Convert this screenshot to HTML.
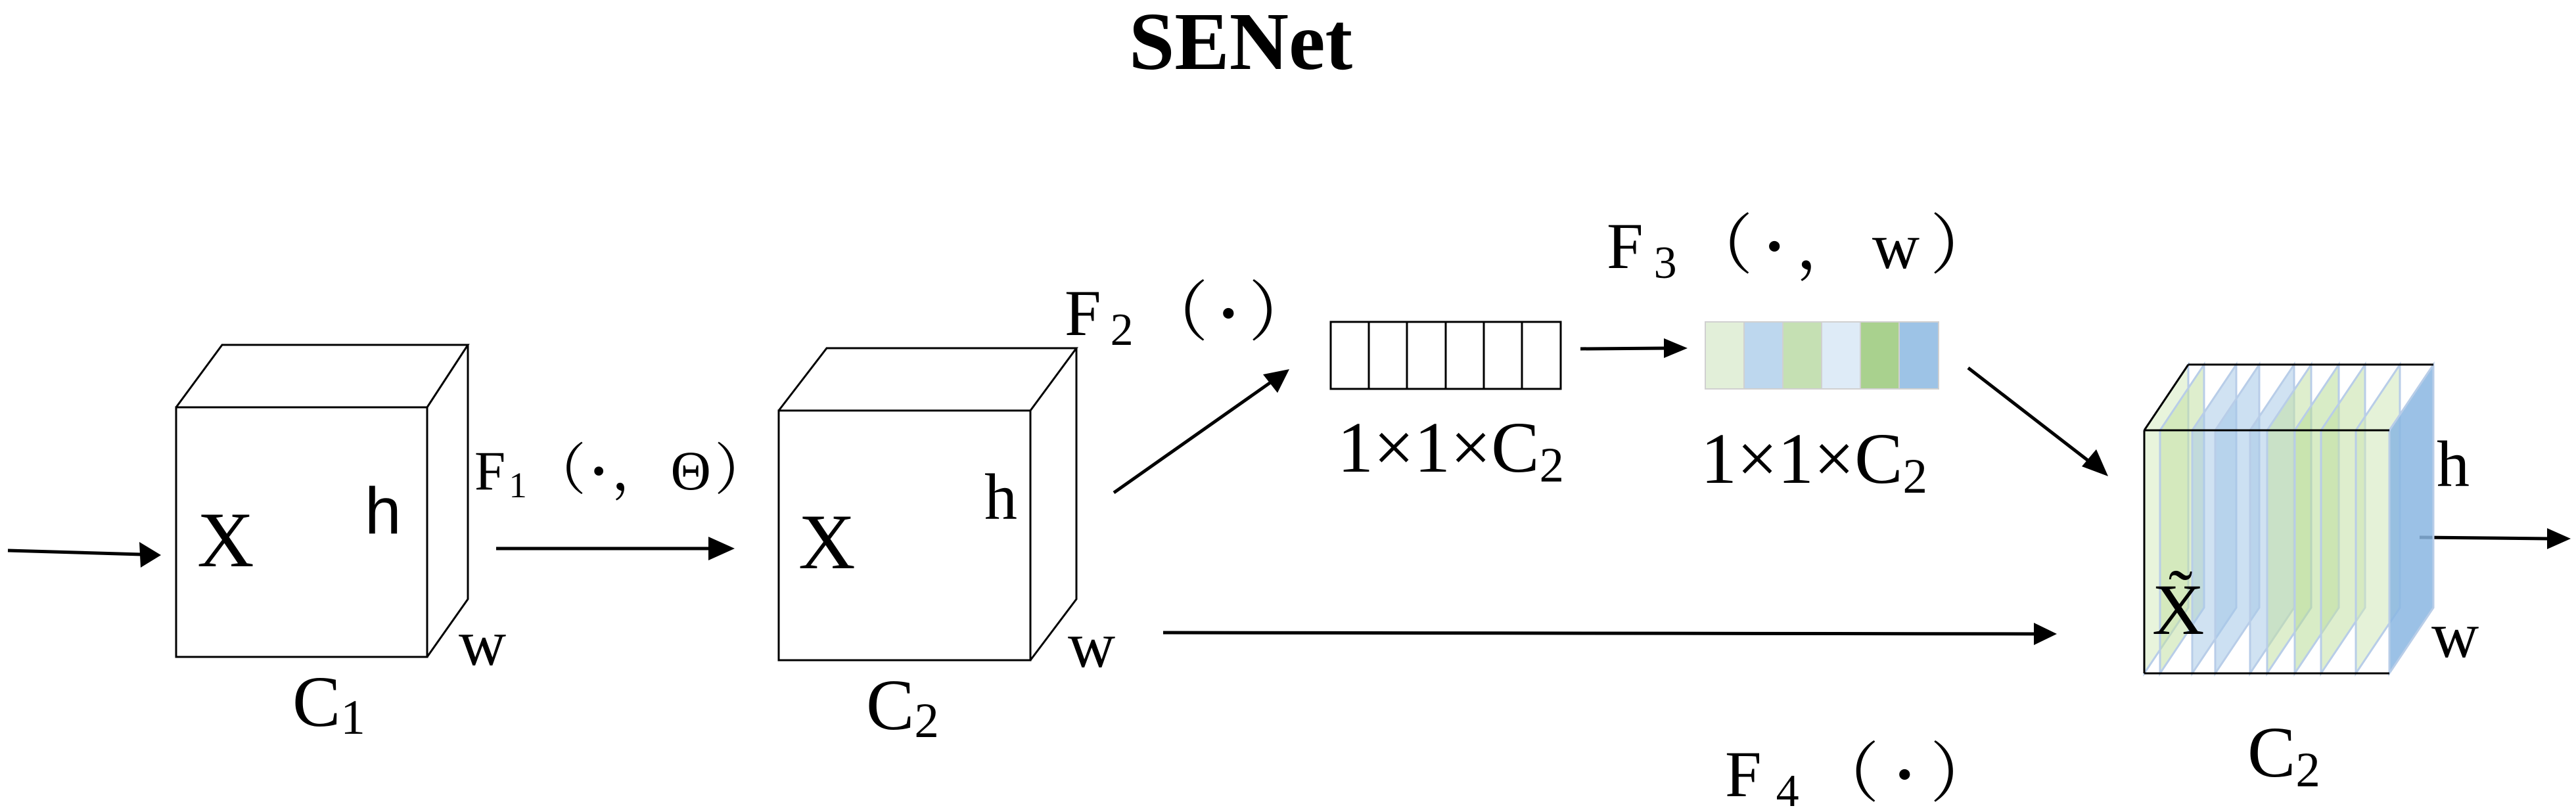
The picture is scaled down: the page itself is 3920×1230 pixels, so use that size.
<!DOCTYPE html>
<html><head><meta charset="utf-8"><style>
html,body{margin:0;padding:0;background:#fff}
svg{display:block}
text{font-family:"Liberation Serif","Noto Serif CJK SC",serif;fill:#000}
</style></head><body>
<svg width="3920" height="1230" viewBox="0 0 3920 1230" xmlns="http://www.w3.org/2000/svg">
<text x="1888" y="105" font-size="125" font-weight="bold" text-anchor="middle">SENet</text>

<g stroke="#000" stroke-width="5" fill="none">
<line x1="12" y1="838" x2="215" y2="844"/>
<line x1="755" y1="835" x2="1080" y2="835"/>
<line x1="1695" y1="750" x2="1935" y2="581"/>
<line x1="2405" y1="531" x2="2540" y2="530"/>
<line x1="2995" y1="560" x2="3180" y2="703"/>
<line x1="1770" y1="963" x2="3100" y2="965"/>
<line x1="3682" y1="818" x2="3880" y2="820"/>
</g>
<g fill="#000">
<polygon points="245,845 212,825 214,864"/>
<polygon points="1118,835 1078,817 1078,853"/>
<polygon points="1962,562 1922,570 1944,598"/>
<polygon points="2568,530 2532,515 2532,545"/>
<polygon points="3208,725 3168,710 3190,684"/>
<polygon points="3130,965 3095,948 3095,982"/>
<polygon points="3912,820 3876,804 3876,836"/>
</g>

<g stroke="#000" stroke-width="3" fill="none">
<rect x="268" y="620" width="382" height="380"/>
<polyline points="268,620 338,525 712,525 650,620"/>
<polyline points="712,525 712,912 650,1000"/>
<rect x="1185" y="625" width="383" height="380"/>
<polyline points="1185,625 1258,530 1638,530 1568,625"/>
<polyline points="1638,530 1638,912 1568,1005"/>
</g>
<text x="300" y="862" font-size="120">X</text>
<text x="555" y="812" font-size="100" style="font-family:'Liberation Sans',sans-serif">h</text>
<text x="698" y="1012" font-size="100">w</text>
<text x="445" y="1105" font-size="110">C<tspan font-size="75" dy="12">1</tspan></text>
<text x="722" y="745" font-size="85" textLength="450" lengthAdjust="spacing">F<tspan font-size="55" dy="12">1</tspan><tspan dy="-12">（</tspan><tspan font-weight="bold">·</tspan>，Θ）</text>

<text x="1215" y="865" font-size="120">X</text>
<text x="1498" y="790" font-size="100">h</text>
<text x="1625" y="1015" font-size="100">w</text>
<text x="1318" y="1110" font-size="110">C<tspan font-size="75" dy="12">2</tspan></text>
<text x="1620" y="510" font-size="100" textLength="380" lengthAdjust="spacing">F<tspan font-size="70" dy="15">2</tspan><tspan dy="-15">（</tspan><tspan font-weight="bold">·</tspan>）</text>

<g stroke="#000" stroke-width="3" fill="none">
<rect x="2025" y="490" width="350" height="102"/>
<line x1="2083" y1="490" x2="2083" y2="592"/>
<line x1="2141" y1="490" x2="2141" y2="592"/>
<line x1="2200" y1="490" x2="2200" y2="592"/>
<line x1="2258" y1="490" x2="2258" y2="592"/>
<line x1="2316" y1="490" x2="2316" y2="592"/>
</g>
<text x="2035" y="718" font-size="110">1×1×C<tspan font-size="75" dy="15">2</tspan></text>

<g stroke="#d0d0d0" stroke-width="2">
<rect x="2595" y="490" width="59" height="102" fill="#e2efd9"/>
<rect x="2654" y="490" width="59" height="102" fill="#bdd7ee"/>
<rect x="2713" y="490" width="59" height="102" fill="#c5e0b3"/>
<rect x="2772" y="490" width="59" height="102" fill="#deebf7"/>
<rect x="2831" y="490" width="59" height="102" fill="#a9d18e"/>
<rect x="2890" y="490" width="60" height="102" fill="#9dc3e6"/>
</g>
<text x="2588" y="735" font-size="110">1×1×C<tspan font-size="75" dy="15">2</tspan></text>
<text x="2445" y="408" font-size="100" textLength="592" lengthAdjust="spacing">F<tspan font-size="70" dy="15">3</tspan><tspan dy="-15">（</tspan><tspan font-weight="bold">·</tspan>，w）</text>
<text x="2625" y="1212" font-size="100" textLength="412" lengthAdjust="spacing">F<tspan font-size="70" dy="15">4</tspan><tspan dy="-15">（</tspan><tspan font-weight="bold">·</tspan>）</text>

<g stroke-width="3" stroke="#b8cde8" fill-opacity="0.55">
<polygon points="3263,655 3330,555 3330,925 3263,1025" fill="#d5ebc0"/>
<polygon points="3287,655 3354,555 3354,925 3287,1025" fill="#c2e0a4"/>
<polygon points="3336,655 3403,555 3403,925 3336,1025" fill="#a9cbe8"/>
<polygon points="3371,655 3438,555 3438,925 3371,1025" fill="#a3c6e8"/>
<polygon points="3424,655 3491,555 3491,925 3424,1025" fill="#a9cbe8"/>
<polygon points="3450,655 3517,555 3517,925 3450,1025" fill="#c2e0a4"/>
<polygon points="3492,655 3559,555 3559,925 3492,1025" fill="#b8dc98"/>
<polygon points="3532,655 3599,555 3599,925 3532,1025" fill="#c2e0a4"/>
<polygon points="3585,655 3652,555 3652,925 3585,1025" fill="#cfe8b8"/>
<polygon points="3636,655 3703,555 3703,925 3636,1025" fill="#8ab6e2" fill-opacity="0.85"/>
</g>
<g stroke="#000" stroke-width="3" fill="none">
<line x1="3263" y1="655" x2="3636" y2="655"/>
<line x1="3330" y1="555" x2="3703" y2="555"/>
<line x1="3263" y1="1025" x2="3636" y2="1025"/>
<line x1="3263" y1="655" x2="3263" y2="1025"/>
<line x1="3263" y1="655" x2="3330" y2="555"/>
</g>
<text x="3708" y="740" font-size="100">h</text>
<text x="3700" y="1000" font-size="100">w</text>
<text x="3275" y="965" font-size="110">X̃</text>
<text x="3420" y="1182" font-size="110">C<tspan font-size="75" dy="15">2</tspan></text>
</svg>
</body></html>
